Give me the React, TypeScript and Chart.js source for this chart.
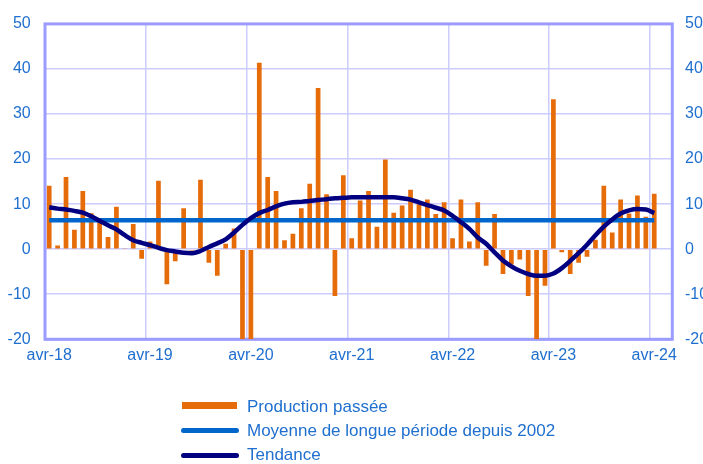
import React, { useEffect, useRef } from "react";
import { Chart, registerables } from "chart.js";

Chart.register(...registerables);

// ---- Data ----
const MONTHS = [
  "avr-18", "mai-18", "jun-18", "jul-18", "aoû-18", "sep-18", "oct-18", "nov-18", "déc-18", "jan-19", "fév-19", "mar-19",
  "avr-19", "mai-19", "jun-19", "jul-19", "aoû-19", "sep-19", "oct-19", "nov-19", "déc-19", "jan-20", "fév-20", "mar-20",
  "avr-20", "mai-20", "jun-20", "jul-20", "aoû-20", "sep-20", "oct-20", "nov-20", "déc-20", "jan-21", "fév-21", "mar-21",
  "avr-21", "mai-21", "jun-21", "jul-21", "aoû-21", "sep-21", "oct-21", "nov-21", "déc-21", "jan-22", "fév-22", "mar-22",
  "avr-22", "mai-22", "jun-22", "jul-22", "aoû-22", "sep-22", "oct-22", "nov-22", "déc-22", "jan-23", "fév-23", "mar-23",
  "avr-23", "mai-23", "jun-23", "jul-23", "aoû-23", "sep-23", "oct-23", "nov-23", "déc-23", "jan-24", "fév-24", "mar-24",
  "avr-24",
];

const PRODUCTION = [
  14.1, 0.8, 16.0, 4.3, 12.9, 8.0, 6.6, 2.7, 9.4, 0.2, 5.6, -2.1,
  1.7, 15.2, -7.8, -2.7, 9.1, -0.3, 15.4, -3.0, -5.9, 1.2, 4.6, -20,
  -20, 41.4, 16.0, 12.9, 2.0, 3.4, 9.1, 14.5, 35.8, 12.2, -10.4, 16.4,
  2.4, 10.8, 12.9, 5.0, 19.9, 8.1, 9.7, 13.2, 10.0, 11.0, 7.8, 10.4,
  2.4, 11.0, 1.7, 10.4, -3.7, 7.8, -5.5, -3.4, -2.3, -10.4, -20, -8.1,
  33.3, -0.7, -5.5, -3.0, -1.7, 2.1, 14.1, 3.7, 11.0, 7.9, 11.9, 7.2,
  12.3,
];

const TREND = [
  9.3, 9.0, 8.8, 8.5, 8.1, 7.3, 6.3, 5.3, 4.4, 3.1, 2.0, 1.4,
  0.9, 0.3, -0.2, -0.5, -0.8, -0.9, -0.4, 0.5, 1.3, 2.2, 3.7, 5.4,
  6.9, 8.0, 8.7, 9.5, 10.1, 10.4, 10.5, 10.7, 10.9, 11.1, 11.3, 11.4,
  11.5, 11.5, 11.5, 11.5, 11.5, 11.5, 11.3, 11.0, 10.4, 9.8, 9.2, 8.6,
  7.4, 6.0, 4.5, 2.6, 1.2, -0.7, -2.5, -3.8, -4.8, -5.5, -5.9, -5.9,
  -5.4, -4.2, -2.6, -0.9, 1.0, 3.1, 5.0, 6.6, 7.9, 8.6, 8.9, 8.8,
  8.0,
];

const LONG_TERM_AVERAGE = 6.4;

const YEAR_TICK_LABELS = ["avr-18", "avr-19", "avr-20", "avr-21", "avr-22", "avr-23", "avr-24"];

const Y_MIN = -20;
const Y_MAX = 50;
const Y_STEP = 10;

// ---- Styles ----
const ORANGE = "#E66C0A";
const AVG_BLUE = "#0066CC";
const NAVY = "#000080";
const BORDER = "#9C9CFF";
const GRID = "#CCCCFF";
const TEXT_BLUE = "#1F6FCF";
const FONT = "'Liberation Sans', Arial, sans-serif";

export default function App() {
  const canvasRef = useRef<HTMLCanvasElement | null>(null);

  useEffect(() => {
    const canvas = canvasRef.current;
    if (!canvas) return;

    const lastIdx = MONTHS.length - 1;
    const boundaries = YEAR_TICK_LABELS.map((lab) => MONTHS.indexOf(lab) - 0.5);

    const boxPlugin = {
      id: "boxPlugin",
      beforeDatasetsDraw(chart: any) {
        const { ctx, chartArea } = chart;
        ctx.save();
        ctx.strokeStyle = BORDER;
        ctx.lineWidth = 3;
        ctx.strokeRect(chartArea.left, chartArea.top, chartArea.right - chartArea.left, chartArea.bottom - chartArea.top);
        ctx.restore();
      },
    };

    const chart = new Chart(canvas, {
      type: "bar",
      data: {
        datasets: [
          {
            type: "line",
            label: "Tendance",
            data: TREND.map((v, i) => ({ x: i, y: v })),
            borderColor: NAVY,
            borderWidth: 4.5,
            pointRadius: 0,
            tension: 0.4,
            cubicInterpolationMode: "monotone",
            fill: false,
            order: 0,
          } as any,
          {
            type: "line",
            label: "Moyenne de longue période depuis 2002",
            data: [
              { x: 0, y: LONG_TERM_AVERAGE },
              { x: lastIdx, y: LONG_TERM_AVERAGE },
            ],
            borderColor: AVG_BLUE,
            borderWidth: 4.5,
            pointRadius: 0,
            fill: false,
            order: 1,
          } as any,
          {
            type: "bar",
            label: "Production passée",
            data: PRODUCTION.map((v, i) => ({ x: i, y: v })),
            backgroundColor: ORANGE,
            borderWidth: 0,
            barPercentage: 0.56,
            categoryPercentage: 1,
            order: 2,
          } as any,
        ],
      },
      options: {
        responsive: false,
        animation: false,
        maintainAspectRatio: false,
        layout: { padding: { top: 13.3, left: 0, right: 0, bottom: 0 } },
        plugins: {
          legend: { display: false },
          tooltip: { enabled: false },
        },
        scales: {
          x: {
            type: "linear",
            offset: false,
            min: -0.5,
            max: 74.15,
            afterBuildTicks: (scale: any) => {
              scale.ticks = boundaries.map((v) => ({ value: v }));
            },
            afterFit: (scale: any) => {
              scale.height = 464 - 339.3;
            },
            ticks: {
              autoSkip: false,
              maxRotation: 0,
              labelOffset: 4.2,
              padding: 7,
              color: TEXT_BLUE,
              font: { family: FONT, size: 16 },
              callback: (_v: any, index: number) => YEAR_TICK_LABELS[index],
            },
            grid: { color: GRID, lineWidth: 1.5, drawTicks: false, offset: false },
            border: { display: false },
          },
          y: {
            position: "left",
            min: Y_MIN,
            max: Y_MAX,
            afterFit: (scale: any) => {
              scale.width = 45;
            },
            ticks: {
              stepSize: Y_STEP,
              padding: 14.3,
              color: TEXT_BLUE,
              font: { family: FONT, size: 16 },
            },
            grid: { color: GRID, lineWidth: 1.5, drawTicks: false },
            border: { display: false },
          },
          y2: {
            position: "right",
            min: Y_MIN,
            max: Y_MAX,
            afterFit: (scale: any) => {
              scale.width = 703 - 672.3;
            },
            ticks: {
              stepSize: Y_STEP,
              padding: 12.7,
              color: TEXT_BLUE,
              font: { family: FONT, size: 16 },
            },
            grid: { display: false, drawTicks: false },
            border: { display: false },
          },
        },
      } as any,
      plugins: [boxPlugin],
    });

    return () => chart.destroy();
  }, []);

  const textStyle: React.CSSProperties = {
    position: "absolute",
    left: 247,
    fontFamily: FONT,
    fontSize: 17,
    lineHeight: "18px",
    color: TEXT_BLUE,
    whiteSpace: "nowrap",
  };

  return (
    <div style={{ position: "absolute", left: 0, top: 0, width: 703, height: 464, background: "#fff" }}>
      <canvas ref={canvasRef} width={703} height={464} style={{ display: "block" }} />
      <div style={{ position: "absolute", left: 182, top: 402, width: 55, height: 7, background: ORANGE }} />
      <div style={{ ...textStyle, top: 397.5 }}>Production passée</div>
      <div style={{ position: "absolute", left: 181, top: 428, width: 58, height: 4.5, borderRadius: 3, background: AVG_BLUE }} />
      <div style={{ ...textStyle, top: 422 }}>Moyenne de longue période depuis 2002</div>
      <div style={{ position: "absolute", left: 181, top: 453, width: 58, height: 4.5, borderRadius: 3, background: NAVY }} />
      <div style={{ ...textStyle, top: 446 }}>Tendance</div>
    </div>
  );
}
